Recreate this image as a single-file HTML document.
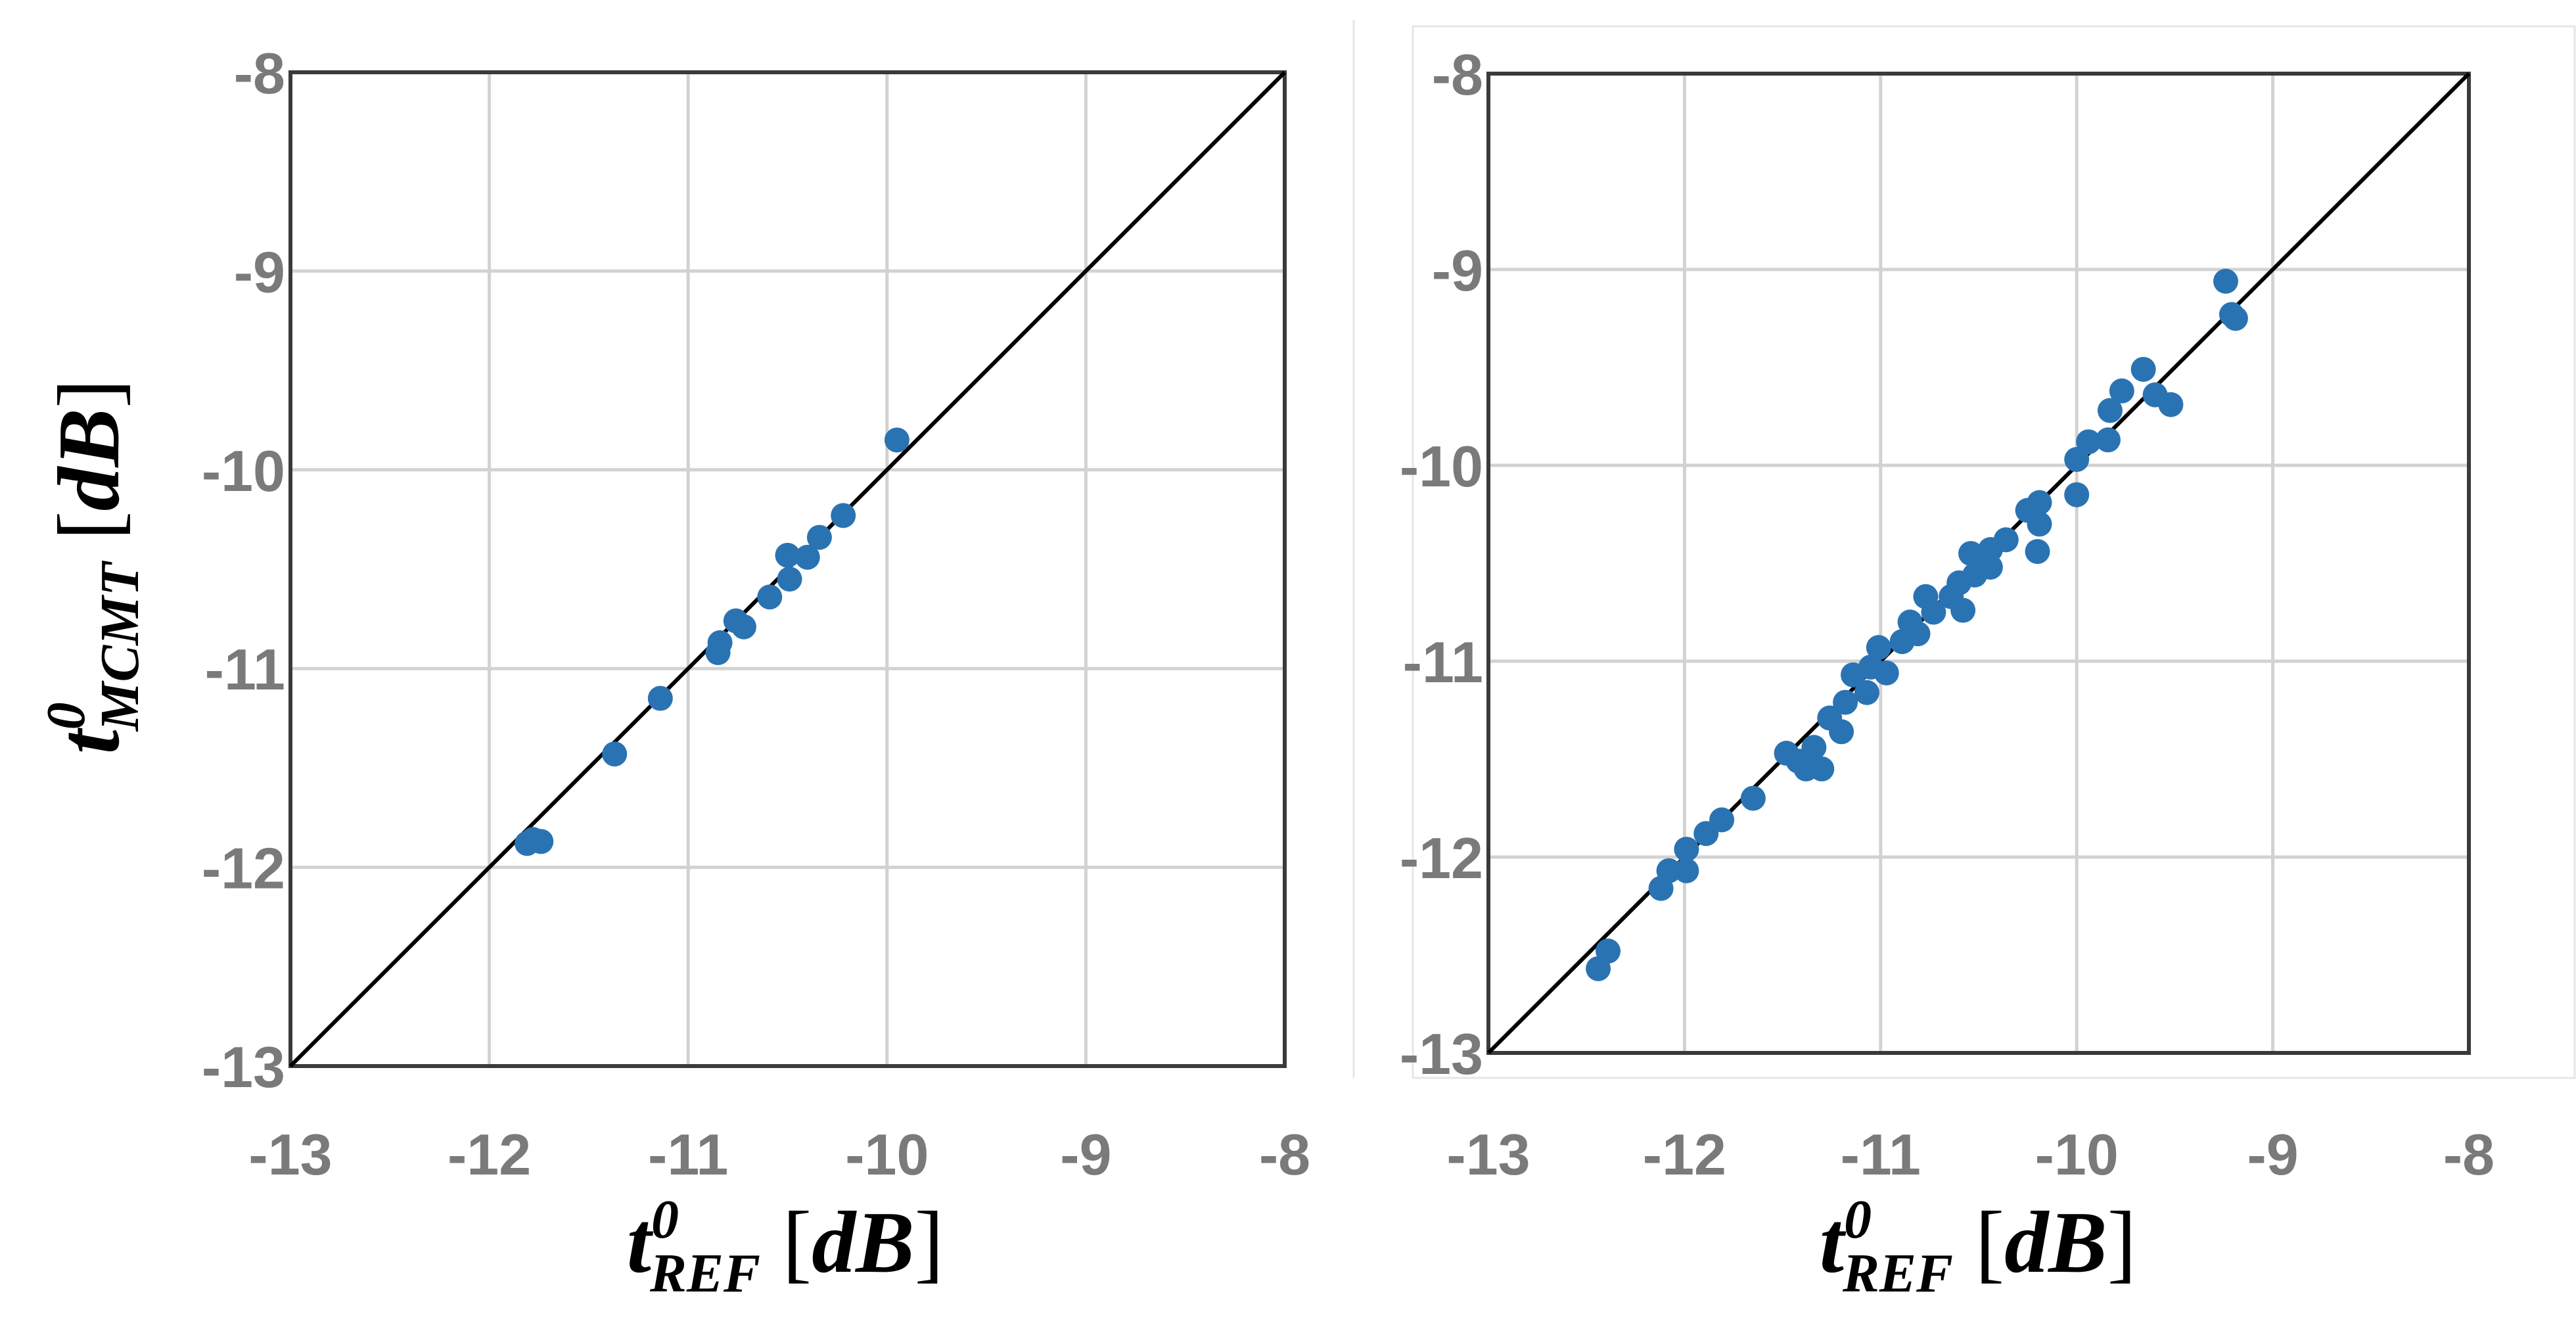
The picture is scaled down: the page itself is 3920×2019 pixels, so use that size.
<!DOCTYPE html>
<html><head><meta charset="utf-8"><style>
html,body{margin:0;padding:0;background:#fff;}
svg{display:block;}
.tick{font-family:"Liberation Sans",sans-serif;font-weight:bold;font-size:88px;fill:#7a7a7a;}
.ttl{font-family:"Liberation Serif",serif;font-weight:bold;font-style:italic;fill:#000;}
.up{font-style:normal;font-weight:normal;}
</style></head><body>
<svg id="chart" width="3920" height="2019" viewBox="0 0 3920 2019" xmlns="http://www.w3.org/2000/svg">
<line x1="2060" y1="30" x2="2060" y2="1640" stroke="#e6e6e6" stroke-width="3"/>
<rect x="2150" y="40" width="1768" height="1600" fill="none" stroke="#e6e6e6" stroke-width="3"/>
<g id="left"></g>
<g id="right"></g>
<text class="ttl" transform="translate(180,862) rotate(-90)" text-anchor="middle" font-size="134">t<tspan font-size="84" dy="-52">0</tspan><tspan font-size="84" dx="-44" dy="82">MCMT</tspan><tspan dy="-30"> <tspan class="up">[</tspan>dB<tspan class="up">]</tspan></tspan></text>
<text class="ttl" x="1195" y="1935" text-anchor="middle" font-size="134">t<tspan font-size="84" dy="-52">0</tspan><tspan font-size="84" dx="-44" dy="82">REF</tspan><tspan dy="-30"> <tspan class="up">[</tspan>dB<tspan class="up">]</tspan></tspan></text>
<text class="ttl" x="3010" y="1935" text-anchor="middle" font-size="134">t<tspan font-size="84" dy="-52">0</tspan><tspan font-size="84" dx="-44" dy="82">REF</tspan><tspan dy="-30"> <tspan class="up">[</tspan>dB<tspan class="up">]</tspan></tspan></text>
</svg>
<script>
const ticks = [-13, -12, -11, -10, -9, -8];
const tickLabels = ["-13", "-12", "-11", "-10", "-9", "-8"];
const leftX = [-9.95,-10.22,-10.34,-10.40,-10.50,-10.49,-10.59,-10.76,-10.72,-10.84,-10.85,-11.14,-11.37,-11.81,-11.74,-11.78];
const leftY = [-9.85,-10.23,-10.34,-10.44,-10.43,-10.55,-10.64,-10.76,-10.79,-10.87,-10.92,-11.15,-11.43,-11.88,-11.87,-11.86];
const rightX = [-9.24,-9.19,-9.21,-9.66,-9.77,-9.83,-9.52,-9.60,-9.84,-9.94,-10.0,-10.0,-10.19,-10.25,-10.19,-10.2,-10.36,-10.44,-10.44,-10.54,-10.52,-10.60,-10.64,-10.58,-10.77,-10.73,-10.85,-10.81,-10.89,-11.01,-10.97,-11.05,-11.14,-11.07,-11.18,-11.26,-11.20,-11.48,-11.42,-11.34,-11.38,-11.30,-11.65,-11.81,-11.89,-11.99,-11.99,-12.08,-12.12,-12.39,-12.44];
const rightY = [-9.06,-9.25,-9.23,-9.51,-9.62,-9.72,-9.69,-9.64,-9.87,-9.88,-9.97,-10.15,-10.19,-10.23,-10.30,-10.44,-10.38,-10.43,-10.52,-10.45,-10.56,-10.60,-10.67,-10.74,-10.67,-10.75,-10.80,-10.86,-10.90,-10.93,-11.06,-11.03,-11.07,-11.16,-11.21,-11.29,-11.36,-11.47,-11.51,-11.44,-11.55,-11.55,-11.70,-11.81,-11.88,-11.96,-12.07,-12.07,-12.16,-12.48,-12.57];
const NS = "http://www.w3.org/2000/svg";
function mk(tag, attrs, parent){const e=document.createElementNS(NS,tag);for(const k in attrs)e.setAttribute(k,attrs[k]);parent.appendChild(e);return e;}
function panel(g, x0, x1, y0, y1, xs, ys, name, labY){
  const sx = v => x0 + (v + 13) / 5 * (x1 - x0);
  const sy = v => y1 - (v + 13) / 5 * (y1 - y0);
  ticks.forEach((t,i)=>{
    const gv = mk('line',{x1:sx(t),x2:sx(t),y1:y0,y2:y1,stroke:'#d2d2d2','stroke-width':5},g);
    
    
    const gh = mk('line',{x1:x0,x2:x1,y1:sy(t),y2:sy(t),stroke:'#d2d2d2','stroke-width':5},g);
    
    
    const tx = mk('text',{x:sx(t),y:labY,'text-anchor':'middle',class:'tick'},g);
    tx.textContent = tickLabels[i];
    
    
    const ty = mk('text',{x:x0-8,y:sy(t)+32,'text-anchor':'end',class:'tick'},g);
    ty.textContent = tickLabels[i];
    
    
  });
  const fr = mk('rect',{x:x0,y:y0,width:x1-x0,height:y1-y0,fill:'none',stroke:'#3a3a3a','stroke-width':6},g);
  
  
  const dl = mk('line',{x1:sx(-13),y1:sy(-13),x2:sx(-8),y2:sy(-8),stroke:'#000','stroke-width':6},g);
  
  
  xs.forEach((v,i)=>{
    const c = mk('circle',{cx:sx(v),cy:sy(ys[i]),r:19,fill:'#2a73b2'},g);
    
    
  });
}
panel(document.getElementById('left'), 442, 1955, 110, 1622, leftX, leftY, 'left', 1787);
panel(document.getElementById('right'), 2265, 3757, 112, 1602, rightX, rightY, 'right', 1787);
</script>
</body></html>
